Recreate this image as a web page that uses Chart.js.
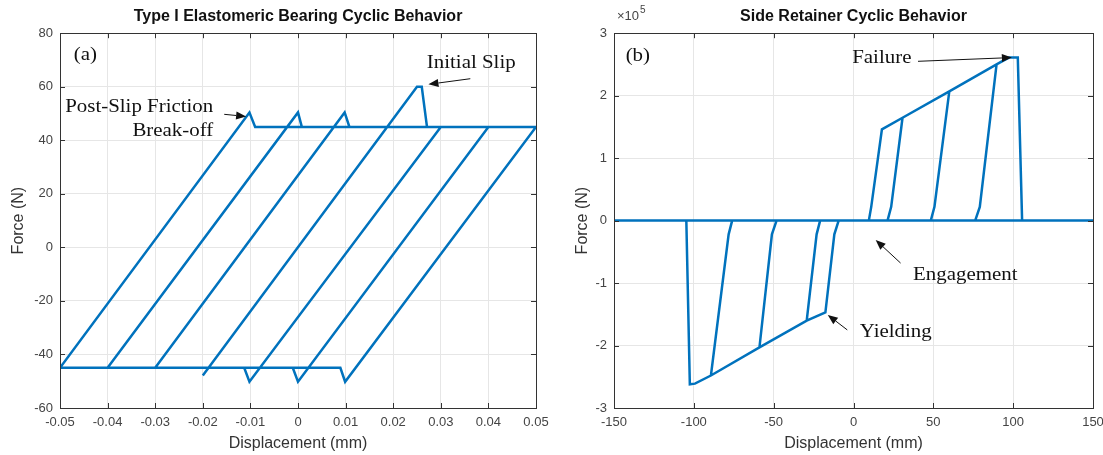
<!DOCTYPE html>
<html>
<head>
<meta charset="utf-8">
<script src="https://cdn.jsdelivr.net/npm/chart.js@4.4.0/dist/chart.umd.min.js"></script>
<style>
  html, body { margin: 0; padding: 0; background: #fff; }
  #wrap { position: relative; width: 1103px; height: 455px; }
  .box { position: absolute; top: 0; height: 455px; }
  #boxA { left: 0; width: 552px; }
  #boxB { left: 552px; width: 551px; }
</style>
</head>
<body>
<div id="wrap">
  <div class="box" id="boxA"><canvas id="bearingChart"></canvas></div>
  <div class="box" id="boxB"><canvas id="retainerChart"></canvas></div>
</div>
<script>
// (a) elastomeric bearing: one continuous hysteresis path
var bearingDisp  = [-0.020, 0.0250, 0.0260, 0.0271, 0.030, -0.0102, -0.0113, -0.030, 0.0098, 0.0108, 0.040,
                    0.0000, -0.0011, -0.040, 0.0000, 0.0008, 0.050, 0.0099, 0.0089, -0.050, -0.0102, -0.0090, 0.050];
var bearingForce = [-47.9, 60.0, 60.0, 45.0, 45.0, -50.2, -45.0, -45.0, 50.4, 45.0, 45.0,
                    -50.2, -45.0, -45.0, 50.4, 45.0, 45.0, -50.2, -45.0, -45.0, 50.4, 45.0, 45.0];
var bearingTicksX = [-0.05, -0.04, -0.03, -0.02, -0.01, 0, 0.01, 0.02, 0.03, 0.04, 0.05];
var bearingTicksY = [-60, -40, -20, 0, 20, 40, 60, 80];

// (b) side retainer: branches separated by null
var retainerDisp  = [-150, 150, null,
                     9.6, 11.1, 17.8, 30.7, 60.0, 89.6, 97.3, 102.9, 105.6, null,
                     21.3, 23.6, 30.7, null,
                     48.4, 50.7, 60.0, null,
                     76.2, 79.1, 89.6, null,
                     -9.3, -12.0, -17.6, -29.3, -58.9, -89.3, -99.3, -102.5, -104.7, null,
                     -20.9, -23.1, -29.3, null,
                     -48.2, -51.1, -58.9, null,
                     -76.0, -78.2, -89.3];
var retainerForce = [0, 0, null,
                     0, 22000, 146000, 164700, 207000, 250000, 261000, 261000, 0, null,
                     0, 22000, 164700, null,
                     0, 22000, 207000, null,
                     0, 22000, 250000, null,
                     0, -22000, -147000, -160000, -203000, -248000, -261000, -262000, 0, null,
                     0, -22000, -160000, null,
                     0, -22000, -203000, null,
                     0, -22000, -248000];
var retainerTicksX = [-150, -100, -50, 0, 50, 100, 150];
var retainerTicksY = [-300000, -200000, -100000, 0, 100000, 200000, 300000];

// annotations, in data units
var bearingNotes = [
    { text: "(a)", x: -0.0471, y: 72, align: "left" },
    { text: "Initial Slip", x: 0.0364, y: 68.8, align: "center" },
    { text: "Post-Slip Friction", x: -0.0178, y: 52.4, align: "right" },
    { text: "Break-off", x: -0.0178, y: 43.5, align: "right" }
];
var bearingArrows = [
    { x1: 0.0362, y1: 63.0, x2: 0.0274, y2: 60.9 },
    { x1: -0.0155, y1: 49.7, x2: -0.0109, y2: 48.9 }
];
var retainerNotes = [
    { text: "(b)", x: -142.7, y: 264000, align: "left" },
    { text: "Failure", x: -0.8, y: 260000, align: "left" },
    { text: "Engagement", x: 37.3, y: -87000, align: "left" },
    { text: "Yielding", x: 3.9, y: -178000, align: "left" }
];
var retainerArrows = [
    { x1: 40.4, y1: 255000, x2: 99.2, y2: 261000 },
    { x1: 29.5, y1: -68000, x2: 13.9, y2: -31000 },
    { x1: -3.9, y1: -175000, x2: -16.1, y2: -151000 }
];

Chart.defaults.font.family = "'Liberation Sans', Arial, sans-serif";
Chart.defaults.color = '#444';

var lineBlue = '#0072BD';

function toPoints(xs, ys) {
    return xs.map(function(x, i) { return { x: x, y: ys[i] }; });
}

// box around the plot with inward tick marks, like MATLAB
var frame = {
    id: 'frame',
    afterDraw: function(chart) {
        var a = chart.chartArea, ctx = chart.ctx;
        var sx = chart.scales.x, sy = chart.scales.y;
        ctx.save();
        ctx.strokeStyle = '#333';
        ctx.lineWidth = 1;
        ctx.strokeRect(Math.round(a.left) + 0.5, Math.round(a.top) + 0.5,
                       Math.round(a.right - a.left), Math.round(a.bottom - a.top));
        ctx.beginPath();
        sx.ticks.forEach(function(t) {
            var p = Math.round(sx.getPixelForValue(t.value)) + 0.5;
            ctx.moveTo(p, a.bottom); ctx.lineTo(p, a.bottom - 5);
            ctx.moveTo(p, a.top); ctx.lineTo(p, a.top + 5);
        });
        sy.ticks.forEach(function(t) {
            var p = Math.round(sy.getPixelForValue(t.value)) + 0.5;
            ctx.moveTo(a.left, p); ctx.lineTo(a.left + 5, p);
            ctx.moveTo(a.right, p); ctx.lineTo(a.right - 5, p);
        });
        ctx.stroke();
        ctx.restore();
    }
};

function makeNotes(notes, arrows, exponent) {
    return {
        id: 'notes',
        afterDraw: function(chart) {
            var ctx = chart.ctx, sx = chart.scales.x, sy = chart.scales.y;
            var stretch = 1.1;
            ctx.save();
            ctx.fillStyle = '#111';
            ctx.font = "19px 'Liberation Serif', 'Times New Roman', serif";
            ctx.textBaseline = 'middle';
            notes.forEach(function(n) {
                var px = sx.getPixelForValue(n.x), py = sy.getPixelForValue(n.y);
                ctx.save();
                ctx.translate(px, py);
                ctx.scale(stretch, 1);
                ctx.textAlign = n.align;
                ctx.fillText(n.text, 0, 0);
                ctx.restore();
            });
            ctx.strokeStyle = '#111';
            ctx.lineWidth = 1;
            arrows.forEach(function(ar) {
                var x1 = sx.getPixelForValue(ar.x1), y1 = sy.getPixelForValue(ar.y1);
                var x2 = sx.getPixelForValue(ar.x2), y2 = sy.getPixelForValue(ar.y2);
                var ang = Math.atan2(y2 - y1, x2 - x1);
                var len = 10, half = 4;
                ctx.beginPath();
                ctx.moveTo(x1, y1);
                ctx.lineTo(x2 - Math.cos(ang) * len, y2 - Math.sin(ang) * len);
                ctx.stroke();
                ctx.beginPath();
                ctx.moveTo(x2, y2);
                ctx.lineTo(x2 - Math.cos(ang) * len - Math.sin(ang) * half, y2 - Math.sin(ang) * len + Math.cos(ang) * half);
                ctx.lineTo(x2 - Math.cos(ang) * len + Math.sin(ang) * half, y2 - Math.sin(ang) * len - Math.cos(ang) * half);
                ctx.closePath();
                ctx.fill();
            });
            if (exponent) {
                var a = chart.chartArea;
                ctx.fillStyle = '#444';
                ctx.textAlign = 'left';
                ctx.font = "13px 'Liberation Sans', Arial, sans-serif";
                ctx.fillText('\u00d710', a.left + 3, a.top - 17);
                var w = ctx.measureText('\u00d710').width;
                ctx.font = "10px 'Liberation Sans', Arial, sans-serif";
                ctx.fillText('5', a.left + 3 + w + 1, a.top - 23);
            }
            ctx.restore();
        }
    };
}

function buildOptions(title, xTicks, yTicks, xFmt, yFmt, yWidth, yTitlePad, rightPad) {
    return {
        responsive: true,
        maintainAspectRatio: false,
        animation: false,
        layout: { padding: { left: 0, right: rightPad, top: 0, bottom: 0 } },
        plugins: {
            legend: { display: false },
            tooltip: { enabled: false },
            title: {
                display: true,
                text: title,
                fullSize: false,
                color: '#111',
                font: { size: 16, weight: 'bold' },
                padding: { top: 7, bottom: 7 }
            }
        },
        scales: {
            x: {
                type: 'linear',
                min: xTicks[0],
                max: xTicks[xTicks.length - 1],
                afterBuildTicks: function(scale) {
                    scale.ticks = xTicks.map(function(v) { return { value: v }; });
                },
                afterFit: function(scale) {
                    scale.height = 47;
                    scale.paddingLeft = 0;
                    scale.paddingRight = 0;
                },
                grid: { color: '#e6e6e6', drawTicks: false },
                border: { display: false },
                ticks: { padding: 7, maxRotation: 0, autoSkip: false, font: { size: 13 }, color: '#444',
                         callback: xFmt },
                title: { display: true, text: 'Displacement (mm)', color: '#333',
                         font: { size: 16 }, padding: { top: 0, bottom: 2 } }
            },
            y: {
                type: 'linear',
                min: yTicks[0],
                max: yTicks[yTicks.length - 1],
                afterBuildTicks: function(scale) {
                    scale.ticks = yTicks.map(function(v) { return { value: v }; });
                },
                afterFit: function(scale) {
                    scale.width = yWidth;
                    scale.paddingTop = 0;
                    scale.paddingBottom = 0;
                },
                grid: { color: '#e6e6e6', drawTicks: false },
                border: { display: false },
                ticks: { padding: 7, autoSkip: false, font: { size: 13 }, color: '#444',
                         callback: yFmt },
                title: { display: true, text: 'Force (N)', color: '#333',
                         font: { size: 16 }, padding: { top: yTitlePad, bottom: 0 } }
            }
        }
    };
}

new Chart(document.getElementById('bearingChart'), {
    type: 'scatter',
    data: {
        datasets: [{
            data: toPoints(bearingDisp, bearingForce),
            showLine: true,
            borderColor: lineBlue,
            borderWidth: 2.5,
            pointRadius: 0,
            tension: 0
        }]
    },
    options: buildOptions('Type I Elastomeric Bearing Cyclic Behavior', bearingTicksX, bearingTicksY,
        function(v) { return v === 0 ? '0' : v.toFixed(2); },
        function(v) { return String(v); },
        60, 9, 16),
    plugins: [frame, makeNotes(bearingNotes, bearingArrows, false)]
});

new Chart(document.getElementById('retainerChart'), {
    type: 'scatter',
    data: {
        datasets: [{
            data: toPoints(retainerDisp, retainerForce),
            showLine: true,
            spanGaps: false,
            borderColor: lineBlue,
            borderWidth: 2.5,
            pointRadius: 0,
            tension: 0
        }]
    },
    options: buildOptions('Side Retainer Cyclic Behavior', retainerTicksX, retainerTicksY,
        function(v) { return String(v); },
        function(v) { return String(v / 100000); },
        62, 21, 10),
    plugins: [frame, makeNotes(retainerNotes, retainerArrows, true)]
});
</script>
</body>
</html>
